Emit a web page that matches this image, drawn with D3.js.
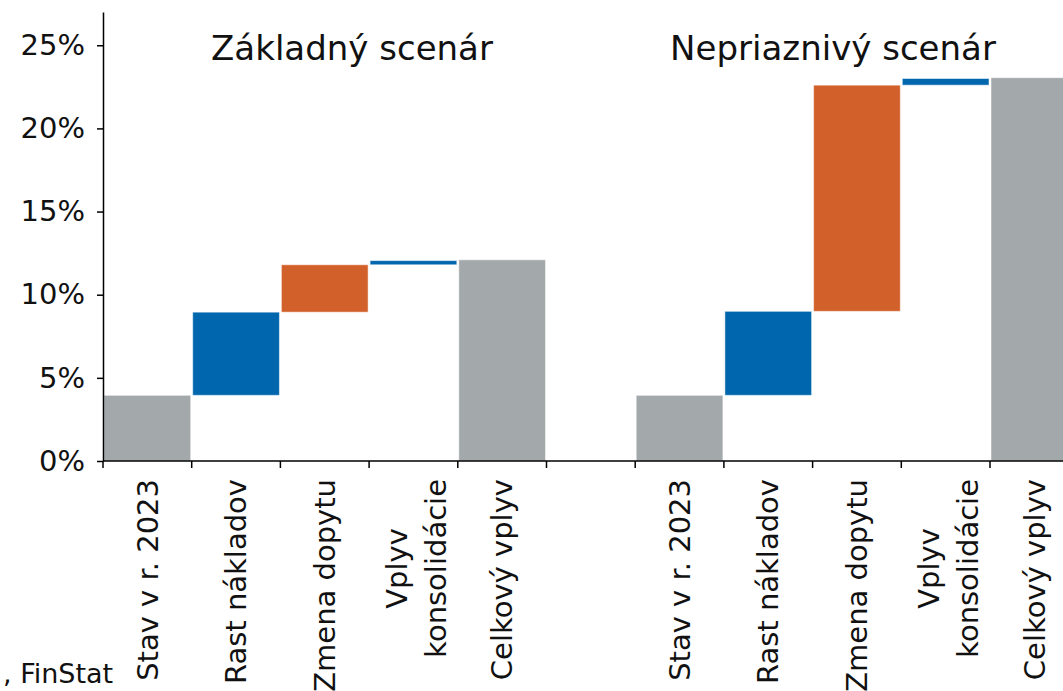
<!DOCTYPE html>
<html>
<head>
<meta charset="utf-8">
<script src="https://cdn.jsdelivr.net/npm/d3@7"></script>
<style>
  body { margin: 0; background: #fff; }
  svg { display: block; font-family: "DejaVu Sans", Verdana, sans-serif; }
</style>
</head>
<body>
<svg class="chart" width="1063" height="691"></svg>
<script>
// slots: 5 bars, an empty gap, 5 bars
const categories = [
  'Stav v r. 2023', 'Rast nákladov', 'Zmena dopytu', 'Vplyv|konsolidácie', 'Celkový vplyv',
  '',
  'Stav v r. 2023', 'Rast nákladov', 'Zmena dopytu', 'Vplyv|konsolidácie', 'Celkový vplyv'
]
const barStart = [0, 3.95, 8.95, 11.8, 0, null, 0, 3.95, 9.0, 22.6, 0]
const barEnd   = [3.95, 8.95, 11.8, 12.05, 12.1, null, 3.95, 9.0, 22.6, 23.0, 23.05]
const barType  = ['total', 'cost', 'demand', 'cons', 'total', null, 'total', 'cost', 'demand', 'cons', 'total']
const yTicks = [0, 5, 10, 15, 20, 25]
const titles = ['Základný scenár', 'Nepriaznivý scenár']
const source = ', FinStat'

const colors = {total: '#a3a9ab', cost: '#0066ad', demand: '#d2602a', cons: '#0066ad'}
const FONT = 29

const svg = d3.select('svg.chart')

const x = d3.scaleBand()
  .domain(d3.range(categories.length))
  .range([103, 103 + 11 * 88.7])
  .padding(0)

const y = d3.scaleLinear()
  .domain([0, 27])
  .range([461, 12])

const bars = d3.range(categories.length).filter(i => barType[i] !== null)

svg.selectAll('rect.bar')
  .data(bars)
  .enter()
  .append('rect')
  .attr('class', 'bar')
  .attr('x', i => x(i) + 1)
  .attr('width', x.bandwidth() - 2)
  .attr('y', i => y(barEnd[i]))
  .attr('height', i => y(barStart[i]) - y(barEnd[i]))
  .attr('fill', i => colors[barType[i]])
  .attr('stroke', '#fff')
  .attr('stroke-opacity', 0.5)
  .attr('stroke-width', 1)

// y axis
const yAxis = svg.append('g')
  .attr('transform', 'translate(103,0)')
  .call(d3.axisLeft(y).tickValues(yTicks).tickFormat(d => d + '%').tickSize(6).tickPadding(12).tickSizeOuter(0))
yAxis.select('.domain').attr('stroke', '#000').attr('stroke-width', 1.5)
yAxis.selectAll('.tick line').attr('stroke', '#000').attr('stroke-width', 1.5)
yAxis.selectAll('.tick text')
  .attr('font-size', FONT)
  .attr('font-family', '"DejaVu Sans", Verdana, sans-serif')
  .attr('fill', '#111')

// x axis line with ticks at slot boundaries
const xAxisG = svg.append('g')
svg.append('line')
  .attr('x1', 103).attr('x2', 1063)
  .attr('y1', y(0)).attr('y2', y(0))
  .attr('stroke', '#000').attr('stroke-width', 1.5)
xAxisG.selectAll('line.xtick')
  .data(d3.range(categories.length + 1))
  .enter()
  .append('line')
  .attr('class', 'xtick')
  .attr('x1', i => 103 + i * x.step())
  .attr('x2', i => 103 + i * x.step())
  .attr('y1', y(0))
  .attr('y2', y(0) + 7)
  .attr('stroke', '#000').attr('stroke-width', 1.5)

// rotated category labels
const labelTop = 479
categories.forEach((c, i) => {
  if (!c) return
  const lines = c.split('|')
  const cx = x(i) + x.bandwidth() / 2 + (lines.length > 1 ? 3 : 0)
  const g = svg.append('g')
  const texts = lines.map((ln, k) => g.append('text')
    .attr('font-size', FONT)
    .attr('fill', '#111')
    .attr('text-anchor', 'middle')
    .attr('dy', '0.35em')
    .text(ln))
  const widths = texts.map(t => t.node().getComputedTextLength())
  const maxW = d3.max(widths)
  const lineH = 39
  texts.forEach((t, k) => {
    const off = (k - (lines.length - 1) / 2) * lineH
    t.attr('transform', `translate(${cx + off},${labelTop + maxW / 2}) rotate(-90)`)
  })
})

// scenario titles
svg.selectAll('text.title')
  .data(titles)
  .enter()
  .append('text')
  .attr('class', 'title')
  .attr('x', (d, i) => i === 0 ? 352 : 833)
  .attr('y', 60)
  .attr('text-anchor', 'middle')
  .attr('font-size', 34)
  .attr('fill', '#111')
  .text(d => d)

// source note (left part is outside the picture in the reference)
svg.append('text')
  .attr('x', 3)
  .attr('y', 683)
  .attr('font-size', 27)
  .attr('fill', '#111')
  .text(source)
</script>
</body>
</html>
